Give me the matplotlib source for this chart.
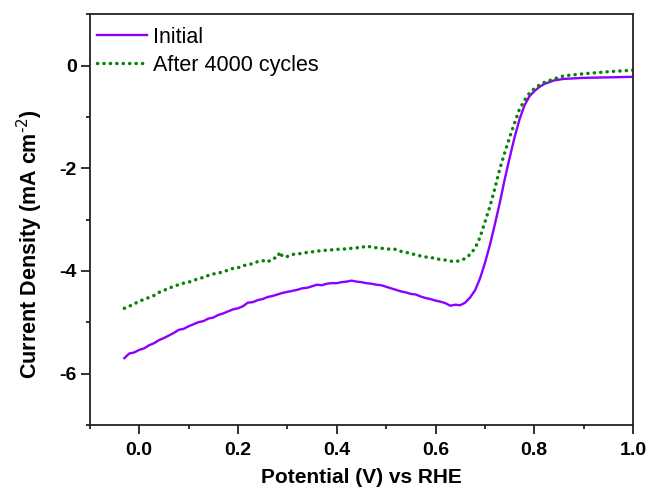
import matplotlib
matplotlib.use("Agg")
import matplotlib.pyplot as plt
from matplotlib.ticker import MultipleLocator

plt.rcParams['font.family'] = ['Liberation Sans', 'DejaVu Sans']

# Potential (V vs RHE) and current density (mA cm^-2)
potential_initial = [-0.03, -0.02, -0.01, 0.00, 0.01, 0.02, 0.03, 0.04, 0.05, 0.06,
                     0.07, 0.08, 0.09, 0.10, 0.11, 0.12, 0.13, 0.14, 0.15, 0.16,
                     0.17, 0.18, 0.19, 0.20, 0.21, 0.22, 0.23, 0.24, 0.25, 0.26,
                     0.27, 0.28, 0.29, 0.30, 0.31, 0.32, 0.33, 0.34, 0.35, 0.36,
                     0.37, 0.38, 0.39, 0.40, 0.41, 0.42, 0.43, 0.44, 0.45, 0.46,
                     0.47, 0.48, 0.49, 0.50, 0.51, 0.52, 0.53, 0.54, 0.55, 0.56,
                     0.57, 0.58, 0.59, 0.60, 0.61, 0.62, 0.63, 0.64, 0.65, 0.66,
                     0.67, 0.68, 0.69, 0.70, 0.71, 0.72, 0.73, 0.74, 0.75, 0.76,
                     0.77, 0.78, 0.79, 0.80, 0.81, 0.82, 0.84, 0.86, 0.90, 0.95, 1.00]
current_initial = [-5.70, -5.61, -5.59, -5.54, -5.51, -5.45, -5.41, -5.35, -5.31, -5.26,
                   -5.21, -5.15, -5.13, -5.08, -5.04, -5.00, -4.98, -4.93, -4.91, -4.86,
                   -4.83, -4.79, -4.75, -4.73, -4.69, -4.62, -4.61, -4.57, -4.55, -4.51,
                   -4.49, -4.46, -4.43, -4.41, -4.39, -4.37, -4.34, -4.33, -4.30, -4.27,
                   -4.28, -4.25, -4.24, -4.24, -4.22, -4.21, -4.19, -4.21, -4.22, -4.24,
                   -4.25, -4.27, -4.28, -4.31, -4.34, -4.37, -4.40, -4.42, -4.45, -4.46,
                   -4.50, -4.53, -4.55, -4.58, -4.60, -4.63, -4.68, -4.66, -4.67, -4.62,
                   -4.52, -4.38, -4.15, -3.85, -3.50, -3.10, -2.68, -2.22, -1.80, -1.40,
                   -1.05, -0.78, -0.60, -0.50, -0.42, -0.36, -0.29, -0.26, -0.24, -0.23, -0.22]

potential_cycled = [-0.03, -0.02, -0.01, 0.00, 0.01, 0.02, 0.03, 0.04, 0.05, 0.06,
                    0.07, 0.08, 0.09, 0.10, 0.11, 0.12, 0.13, 0.14, 0.15, 0.16,
                    0.17, 0.18, 0.19, 0.20, 0.21, 0.22, 0.23, 0.24, 0.25, 0.26,
                    0.27, 0.28, 0.285, 0.29, 0.30, 0.31, 0.32, 0.33, 0.34, 0.35,
                    0.36, 0.37, 0.38, 0.39, 0.40, 0.41, 0.42, 0.43, 0.44, 0.45,
                    0.46, 0.47, 0.48, 0.49, 0.50, 0.51, 0.52, 0.53, 0.54, 0.55,
                    0.56, 0.57, 0.58, 0.59, 0.60, 0.61, 0.62, 0.63, 0.64, 0.65,
                    0.66, 0.67, 0.68, 0.69, 0.70, 0.71, 0.72, 0.73, 0.74, 0.75,
                    0.76, 0.77, 0.78, 0.79, 0.80, 0.81, 0.82, 0.84, 0.86, 0.90, 0.95, 1.00]
current_cycled = [-4.73, -4.69, -4.64, -4.60, -4.55, -4.52, -4.48, -4.42, -4.38, -4.34,
                  -4.30, -4.27, -4.24, -4.22, -4.19, -4.15, -4.13, -4.09, -4.06, -4.05,
                  -4.01, -3.99, -3.95, -3.94, -3.90, -3.88, -3.86, -3.82, -3.80, -3.83,
                  -3.76, -3.74, -3.63, -3.72, -3.72, -3.68, -3.67, -3.66, -3.64, -3.63,
                  -3.62, -3.60, -3.60, -3.59, -3.58, -3.58, -3.57, -3.56, -3.55, -3.55,
                  -3.51, -3.54, -3.55, -3.56, -3.57, -3.58, -3.58, -3.62, -3.64, -3.66,
                  -3.69, -3.71, -3.73, -3.74, -3.76, -3.78, -3.79, -3.81, -3.82, -3.80,
                  -3.76, -3.68, -3.56, -3.35, -3.05, -2.75, -2.40, -2.02, -1.70, -1.40,
                  -1.12, -0.85, -0.68, -0.54, -0.45, -0.38, -0.33, -0.26, -0.20, -0.16, -0.12, -0.09]

x_ticks = [0.0, 0.2, 0.4, 0.6, 0.8, 1.0]
y_ticks = [0, -2, -4, -6]

fig = plt.figure(figsize=(6.46, 4.90), dpi=100)
ax = fig.add_axes([0.139, 0.133, 0.841, 0.838])

ax.plot(potential_initial, current_initial, color='#8B00FF', lw=1.7, label='Initial')
ax.plot(potential_cycled, current_cycled, color='#0A820A', lw=2.5,
        linestyle=(0, (0.05, 1.8)), dash_capstyle='round', label='After 4000 cycles')

ax.set_xlim(-0.1, 1.0)
ax.set_ylim(-7, 1)
ax.set_xticks(x_ticks)
ax.set_yticks(y_ticks)
ax.set_xticklabels([f'{v:.1f}' for v in x_ticks])
ax.set_yticklabels([f'{v:d}' for v in y_ticks])
ax.xaxis.set_minor_locator(MultipleLocator(0.1))
ax.yaxis.set_minor_locator(MultipleLocator(1))

for s in ax.spines.values():
    s.set_linewidth(1.3)
    s.set_color('#222222')
ax.tick_params(which='major', direction='out', length=6.5, width=1.3, labelsize=14, color='#222222')
ax.tick_params(which='minor', direction='out', length=3, width=1.3, color='#222222')
ax.tick_params(top=False, right=False, which='both')
for lbl in ax.get_xticklabels() + ax.get_yticklabels():
    lbl.set_fontweight('bold')
ax.tick_params(axis='x', pad=6)
ax.tick_params(axis='y', pad=3)

ax.set_xlabel('Potential (V) vs RHE', fontsize=15, fontweight='bold', labelpad=6)
ax.set_ylabel('Current Density (mA cm$^{\u2010 2}$)', fontsize=15.5, fontweight='bold')
ax.yaxis.set_label_coords(-0.082, 0.44)

leg = ax.legend(loc='upper left', frameon=False, fontsize=15.5, handlelength=2.3,
                handletextpad=0.3, labelspacing=0.32, borderaxespad=0.0,
                bbox_to_anchor=(-0.002, 0.99))

fig.savefig('out.png', dpi=100)
